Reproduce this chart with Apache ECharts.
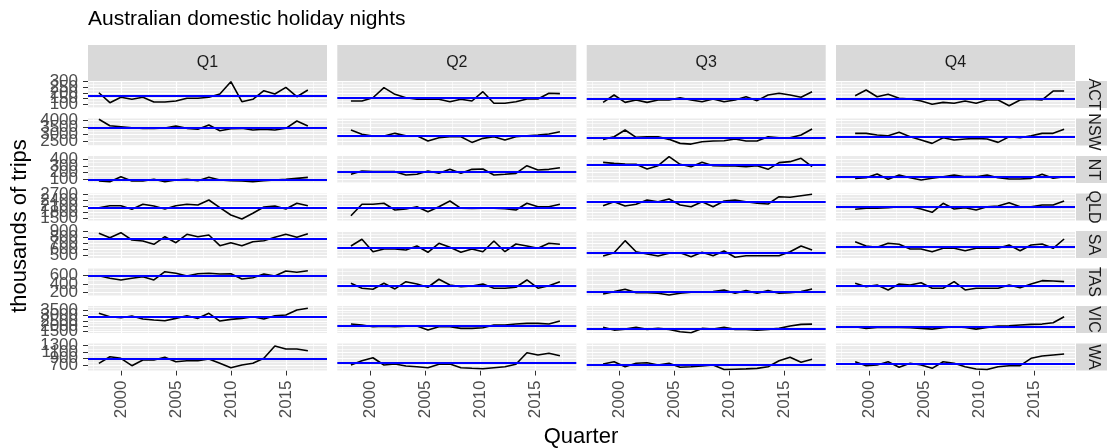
<!DOCTYPE html>
<html><head><meta charset="utf-8">
<script src="https://cdn.jsdelivr.net/npm/echarts@6/dist/echarts.min.js"></script>
<style>html,body{margin:0;padding:0;background:#fff}#c{width:1107px;height:448px}</style>
</head><body><div id="c"></div>
<script>
// ---------- data ----------
const years = [1998,1999,2000,2001,2002,2003,2004,2005,2006,2007,2008,2009,2010,2011,2012,2013,2014,2015,2016,2017];
const quarters = ['Q1','Q2','Q3','Q4'];
const states = ['ACT','NSW','NT','QLD','SA','TAS','VIC','WA'];
const xTicks = [2000,2005,2010,2015];

const ticksACT = [100,150,200,250,300];
const ticksNSW = [2500,3000,3500,4000];
const ticksNT  = [100,200,300,400];
const ticksQLD = [1500,1800,2100,2400,2700];
const ticksSA  = [500,600,700,800,900];
const ticksTAS = [200,400,600];
const ticksVIC = [1500,2000,2500,3000,3500];
const ticksWA  = [700,900,1100,1300];

const ACT = [
  [202,114,162,144,162,120,120,129,153,153,162,191,300,123,144,220,191,250,167,226],
  [129,129,158,247,188,158,144,144,144,123,144,129,211,109,109,123,147,147,197,194],
  [117,182,117,138,117,138,138,158,138,123,147,123,138,167,132,182,197,182,162,211],
  [176,226,167,188,153,147,129,100,117,109,129,109,138,138,87,138,144,138,217,217]
];
const NSW = [
  [4048,3604,3535,3466,3424,3424,3445,3584,3424,3355,3653,3257,3396,3424,3306,3355,3306,3424,3931,3584],
  [3306,3007,2889,2889,3077,2910,2910,2543,2772,2841,2841,2452,2730,2841,2612,2841,2910,2959,3028,3188],
  [2661,2841,3306,2799,2841,2841,2661,2383,2334,2494,2543,2563,2681,2543,2543,2841,2772,2772,2959,3375],
  [3077,3077,2959,2910,3146,2841,2612,2383,2772,2612,2681,2730,2681,2452,2841,2772,2910,3077,3077,3355]
];
const NT = [
  [75,65,140,75,75,100,65,90,100,80,130,90,80,75,65,80,90,100,115,130],
  [176,225,215,215,215,165,176,225,190,250,190,250,255,165,176,190,305,240,250,275],
  [355,340,330,325,255,305,440,325,290,355,305,300,300,290,305,250,350,365,415,290],
  [115,125,180,100,165,125,90,115,140,165,140,140,165,125,105,105,115,175,115,140]
];
const QLD = [
  [2030,2130,2130,1950,2200,2115,1965,2130,2200,2165,2415,2030,1665,1465,1750,2065,2115,1965,2250,2130],
  [1630,2200,2200,2250,1915,1965,2080,1830,2080,2365,2000,1990,2010,2000,1985,1915,2250,2080,2080,2200],
  [2130,2330,2115,2200,2415,2330,2465,2165,2080,2330,2080,2365,2415,2330,2250,2215,2580,2550,2630,2700],
  [1950,2000,2000,2030,2080,2080,1965,1800,2250,1965,2030,1915,2080,2115,2280,2080,2080,2165,2165,2365]
];
const SA = [
  [873,797,883,758,741,684,814,711,855,814,843,660,711,660,728,746,804,855,804,866],
  [655,770,557,603,603,586,655,547,701,632,547,603,557,741,557,689,655,615,701,684],
  [483,540,746,557,518,483,530,540,471,547,488,569,461,488,488,488,488,557,655,586],
  [728,655,632,701,684,603,603,557,615,615,574,615,615,615,672,574,672,689,615,775]
];
const TAS = [
  [600,538,497,538,576,497,696,658,593,648,658,641,648,521,552,641,593,713,682,720],
  [418,298,274,418,281,456,401,322,514,377,336,353,401,298,298,322,497,298,360,456],
  [161,216,274,192,192,178,137,178,202,202,216,257,178,240,178,240,178,192,216,281],
  [418,336,377,257,401,377,432,298,298,456,257,298,298,298,377,312,401,480,473,456]
];
const VIC = [
  [3194,2879,2787,2944,2666,2574,2509,2731,2972,2731,3194,2481,2638,2731,2879,2666,2972,3037,3500,3657],
  [2203,2111,1953,2018,1953,2018,2018,1648,1953,1953,1805,1805,1861,2111,2111,2203,2268,2268,2203,2481],
  [1898,1648,1740,1898,1712,1805,1712,1490,1398,1805,1740,1898,1712,1712,1648,1712,1805,2018,2175,2203],
  [1953,1805,1898,1898,1898,1861,1805,1740,1861,1953,1898,1740,1898,2018,2046,2111,2175,2203,2324,2879]
];
const WA = [
  [752,957,908,678,855,855,939,802,833,833,886,752,615,699,752,908,1290,1197,1197,1144],
  [699,833,926,699,730,668,646,615,721,730,615,597,584,615,646,721,1082,1010,1063,989],
  [730,802,646,752,771,699,752,628,646,668,699,560,570,580,595,646,833,939,783,877],
  [802,678,699,802,628,752,699,597,802,752,646,575,560,646,678,678,908,979,1010,1041]
];

// ---------- layout / scales ----------
const DATA = {ACT, NSW, NT, QLD, SA, TAS, VIC, WA};
const TICKS = {ACT: ticksACT, NSW: ticksNSW, NT: ticksNT, QLD: ticksQLD, SA: ticksSA, TAS: ticksTAS, VIC: ticksVIC, WA: ticksWA};
const YRANGE = {ACT:[67,306], NSW:[2236,4104], NT:[45,450], QLD:[1390,2740], SA:[449,912], TAS:[123,773], VIC:[1380,3870], WA:[529,1368]};
const X_MIN = 1997.01, X_MAX = 2018.74;
const X_MINOR = [1997.5, 2002.5, 2007.5, 2012.5, 2017.5];

const FONT = '"Liberation Sans", Arial, Helvetica, sans-serif';
const PL = [88, 337.3, 586.7, 836], PW = 239, PT0 = 81, PSTEP = 37.5, PH = 27;
const TICK_FS = 17;
const plain = v => String(Math.round(v));

function minorOf(t, lo, hi) {
  const step = t[1] - t[0];
  const out = [t[0] - step / 2];
  for (let i = 0; i < t.length - 1; i++) out.push((t[i] + t[i + 1]) / 2);
  out.push(t[t.length - 1] + step / 2);
  return out.filter(v => v > lo && v < hi);
}

const grids = [], xAxes = [], yAxes = [], series = [];
states.forEach((st, r) => {
  const ticks = TICKS[st];
  const [ymin, ymax] = YRANGE[st];
  const yMinor = minorOf(ticks, ymin, ymax);
  quarters.forEach((q, c) => {
    const gi = r * 4 + c;
    grids.push({left: PL[c], top: PT0 + r * PSTEP, width: PW, height: PH, show: true,
      backgroundColor: '#EBEBEB', borderWidth: 0, containLabel: false, outerBoundsMode: 'none'});
    const xi = xAxes.length;
    xAxes.push({type: 'value', gridIndex: gi, min: X_MIN, max: X_MAX,
      axisLine: {show: false}, splitLine: {show: false},
      axisTick: {show: r === 7, customValues: xTicks, length: 5, lineStyle: {color: '#333333', width: 1}},
      axisLabel: {show: r === 7, customValues: xTicks, rotate: 90, margin: 10, fontSize: TICK_FS,
        color: '#4D4D4D', fontFamily: FONT, hideOverlap: false, formatter: plain}});
    const yi = yAxes.length;
    yAxes.push({type: 'value', gridIndex: gi, min: ymin, max: ymax, position: 'left',
      axisLine: {show: false}, splitLine: {show: false}, axisTick: {show: false}, axisLabel: {show: false}});
    if (c === 0) {
      // one axis per tick value so that overlapping labels are all kept (as in the reference)
      ticks.forEach(t => {
        yAxes.push({type: 'value', gridIndex: gi, min: ymin, max: ymax, position: 'left', offset: 0,
          axisLine: {show: false}, splitLine: {show: false},
          axisTick: {show: true, customValues: [t], length: 5, lineStyle: {color: '#333333', width: 1}},
          axisLabel: {show: true, customValues: [t], margin: 10, fontSize: TICK_FS, color: '#4D4D4D',
            fontFamily: FONT, hideOverlap: false, formatter: plain}});
      });
    }
    const pts = years.map((y, i) => [y + c * 0.25, DATA[st][c][i]]);
    const gl = [];
    yMinor.forEach(v => gl.push({yAxis: v, lineStyle: {color: '#FFFFFF', width: 0.6, type: 'solid'}}));
    X_MINOR.forEach(v => gl.push({xAxis: v, lineStyle: {color: '#FFFFFF', width: 0.6, type: 'solid'}}));
    ticks.forEach(v => gl.push({yAxis: v, lineStyle: {color: '#FFFFFF', width: 1.2, type: 'solid'}}));
    xTicks.forEach(v => gl.push({xAxis: v, lineStyle: {color: '#FFFFFF', width: 1.2, type: 'solid'}}));
    series.push({type: 'line', xAxisIndex: xi, yAxisIndex: yi, data: pts, z: 1, silent: true,
      symbol: 'none', lineStyle: {opacity: 0},
      markLine: {z: 1, silent: true, symbol: ['none', 'none'], label: {show: false}, animation: false, data: gl}});
    series.push({type: 'line', xAxisIndex: xi, yAxisIndex: yi, data: pts, z: 3, silent: true,
      symbol: 'none', lineStyle: {color: '#000000', width: 1.6}});
    series.push({type: 'line', xAxisIndex: xi, yAxisIndex: yi, data: pts, z: 4, silent: true,
      symbol: 'none', lineStyle: {opacity: 0},
      markLine: {z: 6, silent: true, symbol: ['none', 'none'], label: {show: false}, animation: false,
        lineStyle: {color: '#0000FF', width: 2, type: 'solid'}, data: [{type: 'average'}]}});
  });
});

const graphic = [];
graphic.push({type: 'text', x: 88, y: 19, style: {text: 'Australian domestic holiday nights', fontSize: 21,
  fontFamily: FONT, fill: '#000000', textAlign: 'left', textVerticalAlign: 'middle'}});
graphic.push({type: 'text', x: 20, y: 226, rotation: Math.PI / 2, style: {text: 'thousands of trips', fontSize: 22,
  fontFamily: FONT, fill: '#000000', textAlign: 'center', textVerticalAlign: 'middle'}});
graphic.push({type: 'text', x: 581, y: 437, style: {text: 'Quarter', fontSize: 22,
  fontFamily: FONT, fill: '#000000', textAlign: 'center', textVerticalAlign: 'middle'}});
quarters.forEach((q, c) => {
  graphic.push({type: 'rect', shape: {x: PL[c], y: 45, width: PW, height: 36}, style: {fill: '#D9D9D9'}});
  graphic.push({type: 'text', x: PL[c] + PW / 2, y: 63, style: {text: q, fontSize: 16, fontFamily: FONT,
    fill: '#1A1A1A', textAlign: 'center', textVerticalAlign: 'middle'}});
});
states.forEach((st, r) => {
  const top = PT0 + r * PSTEP;
  graphic.push({type: 'rect', shape: {x: 1076, y: top, width: 36, height: PH}, style: {fill: '#D9D9D9'}});
  graphic.push({type: 'text', x: 1093, y: top + PH / 2, rotation: -Math.PI / 2, style: {text: st, fontSize: 16,
    fontFamily: FONT, fill: '#1A1A1A', textAlign: 'center', textVerticalAlign: 'middle'}});
});

const chart = echarts.init(document.getElementById('c'), null, {renderer: 'canvas', width: 1107, height: 448});
chart.setOption({
  animation: false,
  backgroundColor: '#FFFFFF',
  grid: grids, xAxis: xAxes, yAxis: yAxes, series: series, graphic: graphic
});
</script>
</body></html>
